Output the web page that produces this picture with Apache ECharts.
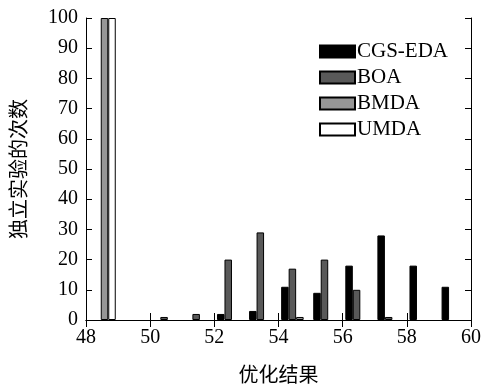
<!DOCTYPE html>
<html>
<head>
<meta charset="utf-8">
<script src="https://cdn.jsdelivr.net/npm/echarts@6/dist/echarts.min.js"></script>
<style>
  html, body { margin: 0; padding: 0; background: #fff; }
  #chart { width: 484px; height: 389px; }
</style>
</head>
<body>
<div id="chart"></div>
<script>
// bin positions (one group per bin)
const binX = [48.46, 49.55, 50.55, 51.55, 52.55, 53.55, 54.55, 55.55, 56.55, 57.55, 58.55, 59.55]

const cgsEda = [0, 0, 0, 0, 2, 3, 11, 9, 18, 28, 18, 11]
const boa    = [0, 0, 1, 2, 20, 29, 17, 20, 10, 1, 0, 0]
const bmda   = [100, 0, 0, 0, 0, 0, 1, 0, 0, 0, 0, 0]
const umda   = [100, 0, 0, 0, 0, 0, 0, 0, 0, 0, 0, 0]

const xTicks = [48, 50, 52, 54, 56, 58, 60]
const yTicks = [0, 10, 20, 30, 40, 50, 60, 70, 80, 90, 100]

const font = 'Liberation Serif'
const cjkFont = 'Noto Sans CJK SC'

// empty bins are left out so no flat bar is drawn
function pairs(vals) {
  return vals.map((v, i) => (v > 0 ? [binX[i], v] : [binX[i], '-']))
}

function barSeries(name, vals, color) {
  return {
    name,
    type: 'bar',
    data: pairs(vals),
    barWidth: 7.5,
    barGap: '0%',
    itemStyle: { color, borderColor: '#000', borderWidth: 1 },
    emphasis: { disabled: true }
  }
}

const chart = echarts.init(document.getElementById('chart'))

const baseX = {
  type: 'value',
  min: xTicks[0],
  max: xTicks[xTicks.length - 1],
  interval: 2,
  splitLine: { show: false },
  axisLine: { show: true, lineStyle: { color: '#000', width: 1 } },
  axisTick: { show: true, inside: true, length: 7, lineStyle: { color: '#000' } }
}
const baseY = {
  type: 'value',
  min: yTicks[0],
  max: yTicks[yTicks.length - 1],
  interval: 10,
  splitLine: { show: false },
  axisLine: { show: true, lineStyle: { color: '#000', width: 1 } },
  axisTick: { show: true, inside: true, length: 6, lineStyle: { color: '#000' } }
}

chart.setOption({
  animation: false,
  backgroundColor: '#fff',
  grid: { left: 86, right: 13, top: 18, bottom: 67, containLabel: false },
  legend: {
    orient: 'vertical',
    left: 314,
    top: 36,
    itemWidth: 35,
    itemHeight: 12,
    itemGap: 5,
    icon: 'rect',
    textStyle: { fontFamily: font, fontSize: 21, color: '#000', lineHeight: 20, padding: [0, 0, 0, -3] },
    data: ['CGS-EDA', 'BOA', 'BMDA', 'UMDA']
  },
  xAxis: [
    Object.assign({}, baseX, {
      position: 'bottom',
      name: '优化结果',
      nameLocation: 'middle',
      nameGap: 44,
      nameTextStyle: { fontFamily: cjkFont, fontSize: 20, color: '#000' },
      axisLabel: { fontFamily: font, fontSize: 20, color: '#000', margin: 8 }
    }),
    Object.assign({}, baseX, { position: 'top', axisLabel: { show: false } })
  ],
  yAxis: [
    Object.assign({}, baseY, {
      position: 'left',
      name: '独立实验的次数',
      nameLocation: 'middle',
      nameGap: 58,
      nameTextStyle: { fontFamily: cjkFont, fontSize: 20, color: '#000' },
      axisLabel: { fontFamily: font, fontSize: 20, color: '#000', margin: 8 }
    }),
    Object.assign({}, baseY, { position: 'right', axisLabel: { show: false } })
  ],
  series: [
    barSeries('CGS-EDA', cgsEda, '#000000'),
    barSeries('BOA', boa, '#595959'),
    barSeries('BMDA', bmda, '#969696'),
    barSeries('UMDA', umda, '#ffffff')
  ]
})
</script>
</body>
</html>
